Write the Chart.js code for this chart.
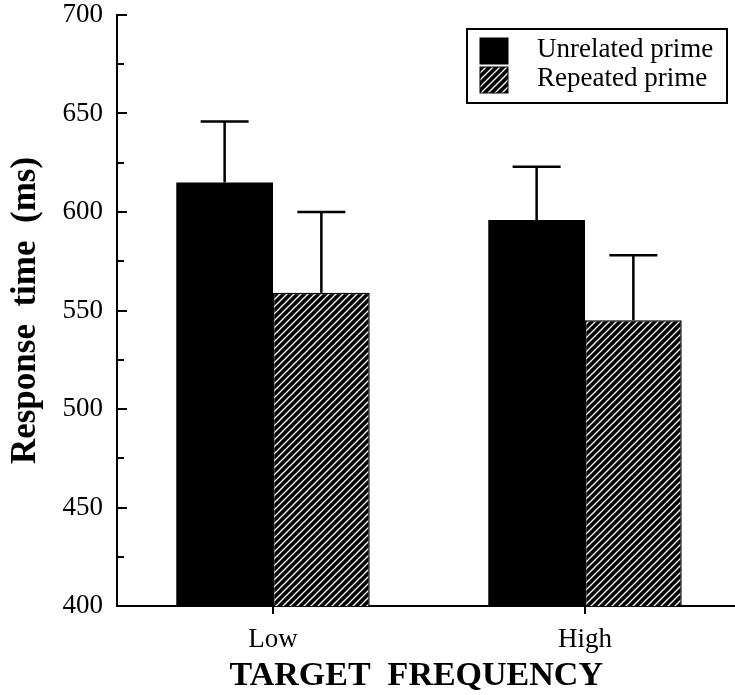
<!DOCTYPE html>
<html><head><meta charset="utf-8">
<script src="https://cdn.jsdelivr.net/npm/chart.js@4"></script>
<style>html,body{margin:0;padding:0;background:#fff;overflow:hidden}#wrap{width:741px;height:695px;position:relative}</style>
</head><body><div id="wrap"><canvas id="c"></canvas></div>
<script>
// ---- data ----
const categories = ['Low', 'High'];
const seriesNames = ['Unrelated prime', 'Repeated prime'];
const unrelatedMeans = [615, 596];
const repeatedMeans = [559, 545];
const unrelatedErrUp = [31, 27];
const repeatedErrUp = [41, 33];
const yMin = 400, yMax = 700, yMinorStep = 25, yMajorStep = 50;
const xTitle = 'TARGET  FREQUENCY   ';
const yTitle = 'Response  time  (ms)';

const SERIF = '"Liberation Serif", "Times New Roman", serif';

function makeHatch() {
  const s = 7;
  const p = document.createElement('canvas');
  p.width = s; p.height = s;
  const g = p.getContext('2d');
  g.fillStyle = '#000'; g.fillRect(0, 0, s, s);
  g.strokeStyle = '#fff'; g.lineWidth = 1.3;
  g.beginPath();
  g.moveTo(0, s); g.lineTo(s, 0);
  g.moveTo(-s, s); g.lineTo(s, -s);
  g.moveTo(0, 2 * s); g.lineTo(2 * s, 0);
  g.stroke();
  return document.getElementById('c').getContext('2d').createPattern(p, 'repeat');
}
const hatch = makeHatch();

const errorBars = {
  id: 'errorBars',
  afterDatasetsDraw(chart) {
    const ctx = chart.ctx, y = chart.scales.y;
    chart.data.datasets.forEach((ds, di) => {
      const meta = chart.getDatasetMeta(di);
      meta.data.forEach((bar, i) => {
        const top = y.getPixelForValue(ds.data[i] + ds.errUp[i]);
        ctx.save();
        ctx.strokeStyle = '#000'; ctx.lineWidth = 2.5;
        ctx.beginPath();
        ctx.moveTo(bar.x, bar.y); ctx.lineTo(bar.x, top);
        ctx.moveTo(bar.x - 24, top); ctx.lineTo(bar.x + 24, top);
        ctx.stroke();
        ctx.restore();
      });
    });
  }
};

const inwardTicks = {
  id: 'inwardTicks',
  afterDraw(chart) {
    const ctx = chart.ctx, y = chart.scales.y, left = chart.chartArea.left;
    ctx.save();
    ctx.strokeStyle = '#000'; ctx.lineWidth = 2;
    y.ticks.forEach(t => {
      const py = Math.round(y.getPixelForValue(t.value));
      const len = (t.value % yMajorStep === 0) ? 10 : 7;
      ctx.beginPath(); ctx.moveTo(left, py); ctx.lineTo(left + len, py); ctx.stroke();
    });
    ctx.restore();
  }
};

const boxLegend = {
  id: 'boxLegend',
  afterDraw(chart) {
    const ctx = chart.ctx, ca = chart.chartArea;
    const bx = ca.right - 274, by = ca.top + 14, bw = 260, bh = 74;
    ctx.save();
    ctx.strokeStyle = '#000'; ctx.lineWidth = 2;
    ctx.fillStyle = '#fff';
    ctx.fillRect(bx, by, bw, bh);
    ctx.strokeRect(bx, by, bw, bh);
    ctx.font = '27px ' + SERIF;
    ctx.textBaseline = 'middle';
    chart.data.datasets.forEach((ds, i) => {
      const sy = by + 9 + i * 29;
      ctx.fillStyle = ds.backgroundColor;
      ctx.fillRect(bx + 13, sy, 28, 26);
      ctx.strokeStyle = '#000'; ctx.lineWidth = 1;
      ctx.strokeRect(bx + 13, sy, 28, 26);
      ctx.fillStyle = '#000';
      ctx.fillText(ds.label, bx + 70, sy + 12);
    });
    ctx.restore();
  }
};

new Chart(document.getElementById('c'), {
  type: 'bar',
  data: {
    labels: categories,
    datasets: [
      { label: seriesNames[0], data: unrelatedMeans, errUp: unrelatedErrUp,
        backgroundColor: '#000', borderColor: '#000', borderWidth: 0 },
      { label: seriesNames[1], data: repeatedMeans, errUp: repeatedErrUp,
        backgroundColor: hatch, borderColor: '#000', borderWidth: 1.5 }
    ]
  },
  options: {
    responsive: true,
    maintainAspectRatio: false,
    animation: false,
    layout: { padding: { top: 15, right: 0, left: 0, bottom: 0 } },
    datasets: { bar: { categoryPercentage: 0.62, barPercentage: 1.0 } },
    plugins: { legend: { display: false }, tooltip: { enabled: false } },
    scales: {
      x: {
        grid: { display: true, drawOnChartArea: false, drawTicks: true, tickLength: 8,
                offset: false, color: '#000', lineWidth: 2 },
        border: { display: true, color: '#000', width: 2 },
        ticks: { color: '#000', padding: 10, font: { family: SERIF, size: 27 } },
        title: { display: true, text: xTitle, color: '#000',
                 font: { family: SERIF, size: 34, weight: 'bold' }, padding: { top: 0, bottom: -2 } },
        afterFit(s) { s.height = 89; s.paddingLeft = 0; s.paddingRight = 0; }
      },
      y: {
        min: yMin, max: yMax,
        grid: { display: true, drawOnChartArea: false, drawTicks: false },
        border: { display: true, color: '#000', width: 2 },
        ticks: { stepSize: yMinorStep, color: '#000', padding: 14,
                 font: { family: SERIF, size: 27 },
                 callback: v => (v % yMajorStep === 0 ? String(v) : '') },
        title: { display: true, text: yTitle, color: '#000',
                 font: { family: SERIF, size: 35, weight: 'bold' }, padding: { top: 5, bottom: 0 } },
        afterFit(s) { s.width = 117; s.paddingTop = 0; s.paddingBottom = 0; }
      }
    }
  },
  plugins: [errorBars, inwardTicks, boxLegend]
});
</script>
</body></html>
